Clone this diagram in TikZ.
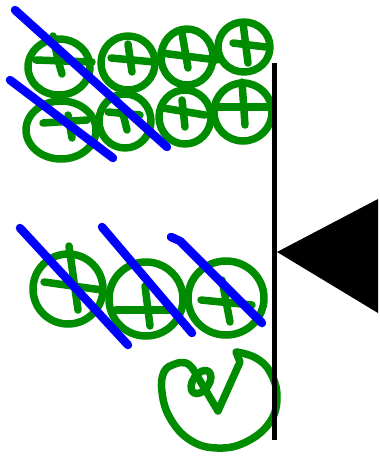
\documentclass[tikz,border=0pt]{standalone}
\definecolor{pen}{RGB}{0,140,0}
\definecolor{ink}{RGB}{0,0,255}
\begin{document}
\begin{tikzpicture}[x=1pt,y=-1pt,
  gs/.style={draw=pen,line width=7.5pt,line cap=round,line join=round},
  bs/.style={draw=ink,line width=8.5pt,line cap=round,line join=round},
  ks/.style={draw=black,line width=5pt}]
\useasboundingbox (0,0) rectangle (380,459);
% top group, row 1
\draw[gs] (59,67) ellipse [x radius=31,y radius=28];
\draw[gs] (53,36) -- (58,60) -- (62,74); \draw[gs] (36,60) -- (92,62);
\draw[gs] (128,63) ellipse [x radius=27,y radius=27];
\draw[gs] (128,44) -- (132,72); \draw[gs] (111,58) -- (154,62);
\draw[gs] (187,57) ellipse [x radius=26,y radius=28];
\draw[gs] (182,33) -- (188,68); \draw[gs] (161,53) -- (217,60);
\draw[gs] (244,47) ellipse [x radius=26,y radius=25];
\draw[gs] (243,23) -- (248,63); \draw[gs] (233,43) -- (266,47);
% top group, row 2
\draw[gs] (61,130) ellipse [x radius=35,y radius=29];
\draw[gs] (68,115) -- (72,138); \draw[gs] (43,123) -- (87,120);
\draw[gs] (125,121) ellipse [x radius=26,y radius=27];
\draw[gs] (122,110) -- (127,130); \draw[gs] (108,112) -- (140,115);
\draw[gs] (185,117) ellipse [x radius=26,y radius=27];
\draw[gs] (182,100) -- (185,127); \draw[gs] (163,108) -- (205,115);
\draw[gs] (243,112) ellipse [x radius=29,y radius=29];
\draw[gs] (242,82) -- (245,125); \draw[gs] (214,107) -- (272,107);
% bottom row
\draw[gs] (68,289) ellipse [x radius=35,y radius=35];
\draw[gs] (69,246) -- (78,310); \draw[gs] (44,282) -- (102,290);
\draw[gs] (146,299) ellipse [x radius=37,y radius=37];
\draw[gs] (145,286) -- (150,326); \draw[gs] (116,310) -- (169,310);
\draw[gs] (226,298) ellipse [x radius=38,y radius=37];
\draw[gs] (222,280) -- (230,322); \draw[gs] (201,300) -- (252,305);
% check mark
\draw[gs] plot[smooth,tension=0.7] coordinates {(237,352) (256,358) (270,372) (277,396) (270,422) (246,442) (217,448) (190,440) (170,418) (162,392) (164,372) (175,364) (186,363) (193,369)};
\draw[gs,rotate around={-35:(201,382)}] (201,382) ellipse [x radius=8,y radius=13];
\draw[gs] (193,369) -- (218,411) -- (240,362) -- (236,352);
% blue strokes
\draw[bs] (15,10) -- (167,147);
\draw[bs] (10,80) -- (113,158);
\draw[bs] (20,228) -- (128,345);
\draw[bs] (102,227) -- (192,333);
\draw[bs] (171,237) -- (180,241) -- (262,323);
% black line and triangle
\draw[ks] (274.5,63) -- (274.5,440);
\fill[black] (277,252) -- (378,199) -- (378,313) -- cycle;
\end{tikzpicture}
\end{document}
